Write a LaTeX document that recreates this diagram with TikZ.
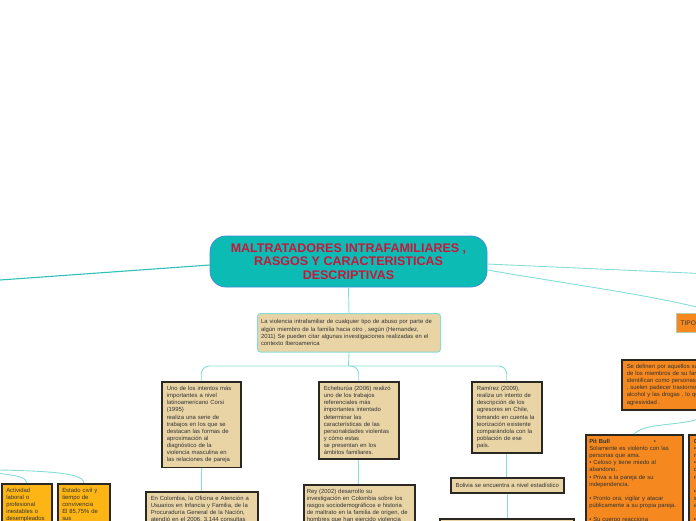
\documentclass[tikz,border=0pt]{standalone}
\usepackage{fontspec}
\setmainfont{Liberation Sans}
\usepackage{tikz}
\usetikzlibrary{positioning,calc}
\definecolor{capfill}{HTML}{0DBBB5}
\definecolor{capline}{HTML}{3D8DD6}
\definecolor{captext}{HTML}{C8173A}
\definecolor{sand}{HTML}{E9D4A6}
\definecolor{ink}{HTML}{333333}
\definecolor{frame}{HTML}{2B2723}
\definecolor{tealA}{HTML}{2FC1B9}
\definecolor{tealB}{HTML}{86DCD8}
\definecolor{orng}{HTML}{F5891F}
\definecolor{gold}{HTML}{FDB515}
\definecolor{sage}{HTML}{B6CBAA}
\newcommand{\cardfont}{\fontsize{5.9}{7.1}\selectfont}
\tikzset{
  rootbox/.style={
    fill=capfill,
    draw=capline,
    line width=0.8pt,
    rounded corners=16pt,
    minimum width=277pt,
    minimum height=51pt,
    inner sep=0pt,
    text=captext,
    align=center,
    font=\bfseries\fontsize{12.5}{13.5}\selectfont
  },
  intro/.style={
    anchor=north west,
    fill=sand,
    draw=tealB,
    line width=1pt,
    rounded corners=3pt,
    text=ink,
    align=left,
    inner xsep=3.5pt,
    inner ysep=6pt,
    font=\fontsize{5.9}{7.4}\selectfont
  },
  card/.style={
    anchor=north west,
    fill=sand,
    draw=frame,
    line width=1.5pt,
    text=ink,
    align=left,
    inner xsep=5pt,
    inner ysep=4.5pt,
    font=\cardfont
  },
  cardO/.style={card, fill=orng},
  cardY/.style={card, fill=gold, inner xsep=4.5pt},
  tipo/.style={
    anchor=north west,
    fill=orng,
    draw=sage,
    line width=1.2pt,
    text=ink,
    align=left,
    text width=78pt,
    minimum height=19pt,
    inner xsep=4pt,
    font=\fontsize{6.6}{8}\selectfont
  },
  linkA/.style={draw=tealA, line width=1.1pt},
  linkB/.style={draw=tealB, line width=0.9pt}
}
\begin{document}
\begin{tikzpicture}[x=1pt,y=-1pt]
    \useasboundingbox (0,0) rectangle (696,520);
    \clip (0,0) rectangle (696,520);
    \node[rootbox] (root) at (348.5,261.5) {MALTRATADORES INTRAFAMILIARES ,\\RASGOS Y CARACTERISTICAS\\DESCRIPTIVAS};
    \node[intro, text width=176pt] (intro) at (257,313) {La violencia intrafamiliar de cualquier tipo de abuso por parte de\\algún miembro de la familia hacia otro , según (Hernandez,\\2011) Se pueden citar algunas investigaciones realizadas en el\\contexto Iberoamerica};
    \node[card, text width=69pt] (corsi) at (161,381) {Uno de los intentos más\\importantes a nivel\\latinoamericano Corsi\\(1995)\\realiza una serie de\\trabajos en los que se\\destacan las formas de\\aproximación al\\diagnóstico de la\\violencia masculina en\\las relaciones de pareja};
    \node[card, text width=70pt] (echeburua) at (318,381) {Echeburúa (2006) realizó\\uno de los trabajos\\referenciales más\\importantes intentado\\determinar las\\características de las\\personalidades violentas\\y cómo estas\\se presentan en los\\ámbitos familiares.};
    \node[card, text width=60pt] (ramirez) at (471,381) {Ramírez (2009),\\realiza un intento de\\descripción de los\\agresores en Chile,\\tomando en cuenta la\\teorización existente\\comparándola con la\\población de ese\\país.};
    \node[card, text width=102pt] (colombia) at (145,491) {En Colombia, la Oficina e Atención a\\Usuarios en Infancia y Familia, de la\\Procuraduría General de la Nación,\\atendió en el 2006, 3.144 consultas};
    \node[card, text width=105pt, inner xsep=3pt] (rey) at (303,484) {Rey (2002) desarrollo su\\investigación en Colombia sobre los\\rasgos sociodemográficos e historia\\de maltrato en la familia de origen, de\\hombres que han ejercido violencia};
    \node[card, text width=107pt, inner xsep=3pt, inner ysep=0pt, minimum height=15pt, align=center] (bolivia) at (450,477) {Bolivia se encuentra a nivel estadístico};
    \node[card, minimum width=134pt, minimum height=20pt] (nextbox) at (439,518) {};
    \node[tipo] (tipo) at (676,313) {TIPOS};
    \node[cardO, text width=160pt] (definen) at (621,359) {Se definen por aquellos sujetos que\\de los miembros de su familia\\identifican como personas\\, suelen padecer trastornos\\alcohol y las drogas , lo que\\agresividad .};
    \node[cardO, text width=90pt, inner xsep=3.5pt] (pitbull) at (585,434) {\textbf{Pit Bull}\hspace{44pt}\textbullet\\Solamente es violento con las\\personas que ama.\\\textbullet{} Celoso y tiene miedo al\\abandono.\\\textbullet{} Priva a la pareja de su\\independencia.\\[7.1pt]\textbullet{} Pronto ora, vigilar y atacar\\públicamente a su propia pareja.\\[7.1pt]\textbullet{} Su cuerpo reacciona};
    \node[cardO, text width=90pt] (cobra) at (688,434) {\textbf{Cobra}\\\textbullet{} Es violento con todas las\\mujeres y con otros.\\\textbullet{} Es agresivo con\\cualquier persona,\\reacciona con frialdad.\\[7.1pt]\textbullet{} Se calma a\\sí mismo cuando es\\agresivo.\\[7.1pt]\textbullet{} Su ritmo cardiaco baja};
    \node[cardY, text width=41pt] (actividad) at (1,483) {Actividad\\laboral o\\profesional\\inestables o\\desempleados};
    \node[cardY, text width=43pt] (estado) at (57,483) {Estado civil y\\tiempo de\\convivencia\\El 85,75\% de\\sus};
    \coordinate (fork) at (348.5,366);
    \coordinate (offL) at (-60,284.3);
    \coordinate (offR) at (760,276.2);
    \coordinate (offLL) at (-80,469);
    \draw[linkA] ([yshift=-3.5pt]root.west) -- (offL);
    \draw[linkB] ([yshift=-2.5pt]root.east) -- (offR);
    \draw[linkB] ([yshift=-8.5pt]root.east) .. controls (580,286) and (660,296) .. (tipo.north);
    \draw[linkB] (root.south) -- (intro.north);
    \draw[linkB] (intro.south) -- (fork);
    \draw[linkB, rounded corners=8pt] (fork) -| (corsi.north);
    \draw[linkB, rounded corners=8pt] (fork) -| (echeburua.north);
    \draw[linkB, rounded corners=8pt] (fork) -| (ramirez.north);
    \draw[linkB] (corsi.south) -- (corsi.south |- colombia.north);
    \draw[linkB] (echeburua.south) -- (echeburua.south |- rey.north);
    \draw[linkB] (ramirez.south) -- (ramirez.south |- bolivia.north);
    \draw[linkB] (bolivia.south) -- (bolivia.south |- nextbox.north);
    \draw[linkB] (definen.south) .. controls (706,428) and (645,420) .. (pitbull.north);
    \draw[linkB] (offLL) .. controls (5,473) and (26,474) .. (actividad.north);
    \draw[linkB] (offLL) .. controls (40,470) and (83,471) .. (estado.north);
\end{tikzpicture}
\end{document}
